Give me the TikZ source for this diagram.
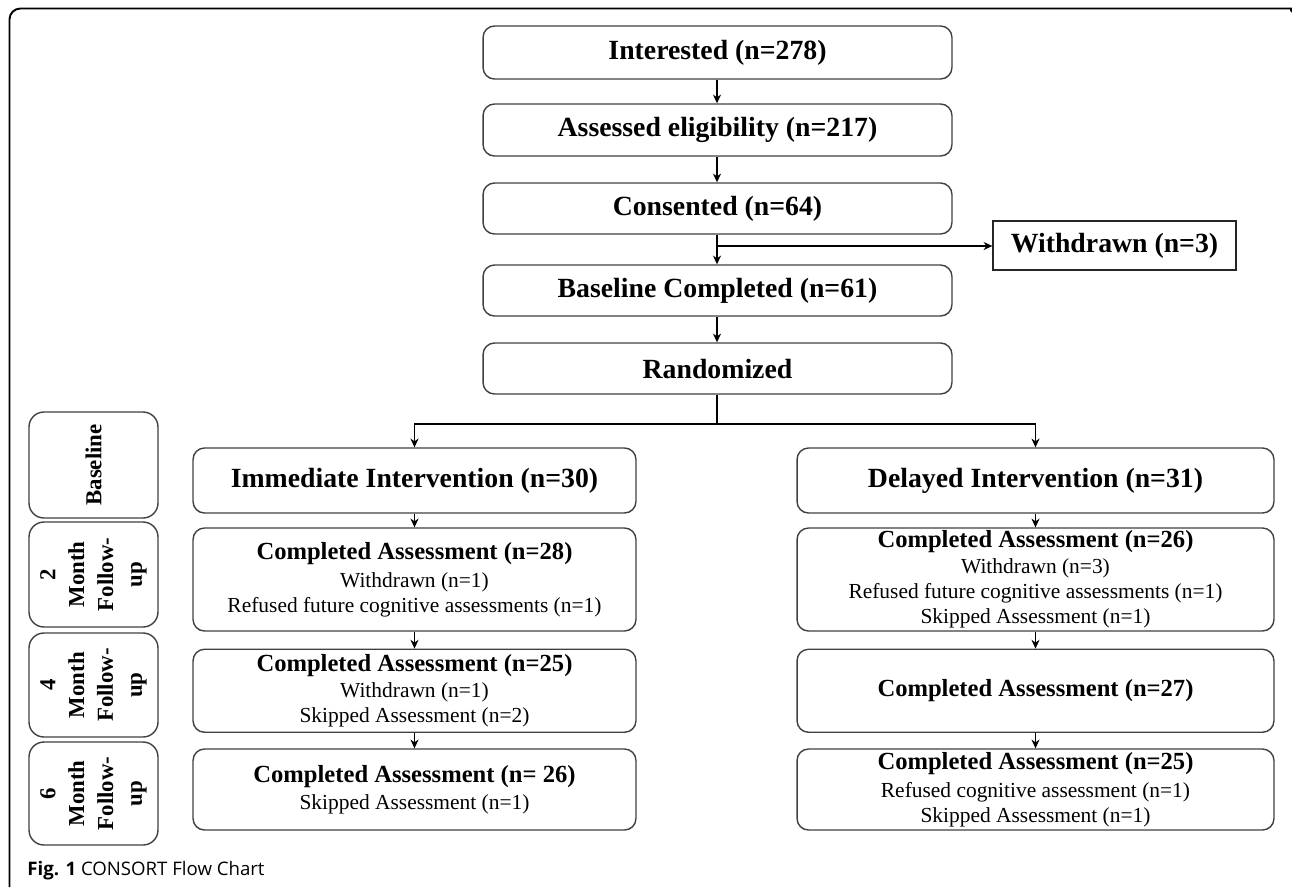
\documentclass[tikz,border=0pt]{standalone}
\usepackage{fontspec}
\setmainfont{Liberation Serif}
\newfontfamily\capfont{Open Sans}
\usetikzlibrary{arrows.meta}
\newcommand{\headtxt}{\fontsize{14}{16.5}\selectfont\bfseries}
\newcommand{\subtxt}{\fontsize{12.2}{14.2}\selectfont\mdseries}

\begin{document}
\begin{tikzpicture}[x=0.02cm, y=-0.02cm,
    >={Stealth[length=5pt,width=4.6pt]},
    box/.style={draw=black!75, line width=0.8pt, rounded corners=6.5pt, align=center, inner sep=0pt},
    sqbox/.style={draw=black!85, line width=0.8pt, align=center, inner sep=0pt},
    bigtxt/.style={font=\fontsize{15.8}{18}\selectfont\bfseries},
    stepbox/.style={box, font=\subtxt},
    sidebox/.style={box, rounded corners=8.5pt, rotate=90, minimum height=2.58cm, font=\fontsize{13}{16.4}\selectfont\bfseries},
    link/.style={draw=black, line width=0.6pt}]
    \useasboundingbox (0,0) rectangle (1292,887);
    % frame
    \draw[line width=1.1pt, rounded corners=6.2pt] (9.5,887) -- (9.5,8.5) -- (1287,8.5) .. controls (1290,8.5) .. (1292,12);
    % main column
    \node (int) at (717.5,52.5) [box, bigtxt, minimum width=9.38cm, minimum height=1.06cm] {Interested (n=278)};
    \node (ass) at (717.5,130) [box, bigtxt, minimum width=9.38cm, minimum height=1.04cm] {Assessed eligibility (n=217)};
    \node (con) at (717.5,208.5) [box, bigtxt, minimum width=9.38cm, minimum height=1.02cm] {Consented (n=64)};
    \node (wd) at (1114.5,245.5) [sqbox, bigtxt, minimum width=4.86cm, minimum height=0.98cm] {Withdrawn (n=3)};
    \node (base) at (717.5,290.5) [box, bigtxt, minimum width=9.38cm, minimum height=1.02cm] {Baseline Completed (n=61)};
    \node (rand) at (717.5,368.5) [box, bigtxt, minimum width=9.38cm, minimum height=1.02cm] {Randomized};
    \coordinate (split) at (717,246);
    \coordinate (fork) at (717,424);
    % arms
    \node (imm) at (414.5,480.5) [box, bigtxt, minimum width=8.86cm, minimum height=1.3cm] {Immediate Intervention (n=30)};
    \node (del) at (1035.5,480.5) [box, bigtxt, minimum width=9.54cm, minimum height=1.3cm] {Delayed Intervention (n=31)};
    \node (imm2) at (414.5,579.5) [stepbox, minimum width=8.86cm, minimum height=2.06cm] {{\headtxt Completed Assessment (n=28)}\\[2pt]
        Withdrawn (n=1)\\Refused future cognitive assessments (n=1)};
    \node (del2) at (1035.5,579.5) [stepbox, minimum width=9.54cm, minimum height=2.06cm] {{\headtxt Completed Assessment (n=26)}\\[0.5pt]
        Withdrawn (n=3)\\Refused future cognitive assessments (n=1)\\Skipped Assessment (n=1)};
    \node (imm4) at (414.5,690.75) [stepbox, minimum width=8.86cm, minimum height=1.66cm] {{\headtxt Completed Assessment (n=25)}\\[1pt]
        Withdrawn (n=1)\\Skipped Assessment (n=2)};
    \node (del4) at (1035.5,690.75) [box, font=\headtxt, minimum width=9.54cm, minimum height=1.66cm] {Completed Assessment (n=27)};
    \node (imm6) at (414.5,789.5) [stepbox, minimum width=8.86cm, minimum height=1.62cm] {{\headtxt Completed Assessment (n= 26)}\\[1pt]
        Skipped Assessment (n=1)};
    \node (del6) at (1035.5,789.5) [stepbox, minimum width=9.54cm, minimum height=1.62cm] {{\headtxt Completed Assessment (n=25)}\\[1.5pt]
        Refused cognitive assessment (n=1)\\Skipped Assessment (n=1)};
    % time points
    \node (tb) at (93.5,465) [sidebox, minimum width=2.12cm] {Baseline};
    \node (t2) at (93.5,574.5) [sidebox, minimum width=2.1cm] {2\\Month\\Follow-\\up};
    \node (t4) at (93.5,685) [sidebox, minimum width=2.08cm] {4\\Month\\Follow-\\up};
    \node (t6) at (93.5,793.5) [sidebox, minimum width=2.06cm] {6\\Month\\Follow-\\up};
    % connectors
    \draw[link, ->] (int.south -| split) -- (ass.north -| split);
    \draw[link, ->] (ass.south -| split) -- (con.north -| split);
    \draw[link, ->] (con.south -| split) -- (base.north -| split);
    \draw[link, ->] (split) -- (wd.west |- split);
    \draw[link, ->] (base.south -| split) -- (rand.north -| split);
    \draw[link] (rand.south -| fork) -- (fork);
    \draw[link, ->] (fork) -| (imm.north);
    \draw[link, ->] (fork) -| (del.north);
    \draw[link, ->] (imm) -- (imm2);
    \draw[link, ->] (imm2) -- (imm4);
    \draw[link, ->] (imm4) -- (imm6);
    \draw[link, ->] (del) -- (del2);
    \draw[link, ->] (del2) -- (del4);
    \draw[link, ->] (del4) -- (del6);
    % caption
    \node (cap) at (27,871) [anchor=west, inner sep=0pt, font=\capfont\fontsize{10.6}{12}\selectfont] {\textbf{Fig. 1} CONSORT Flow Chart};
\end{tikzpicture}
\end{document}
